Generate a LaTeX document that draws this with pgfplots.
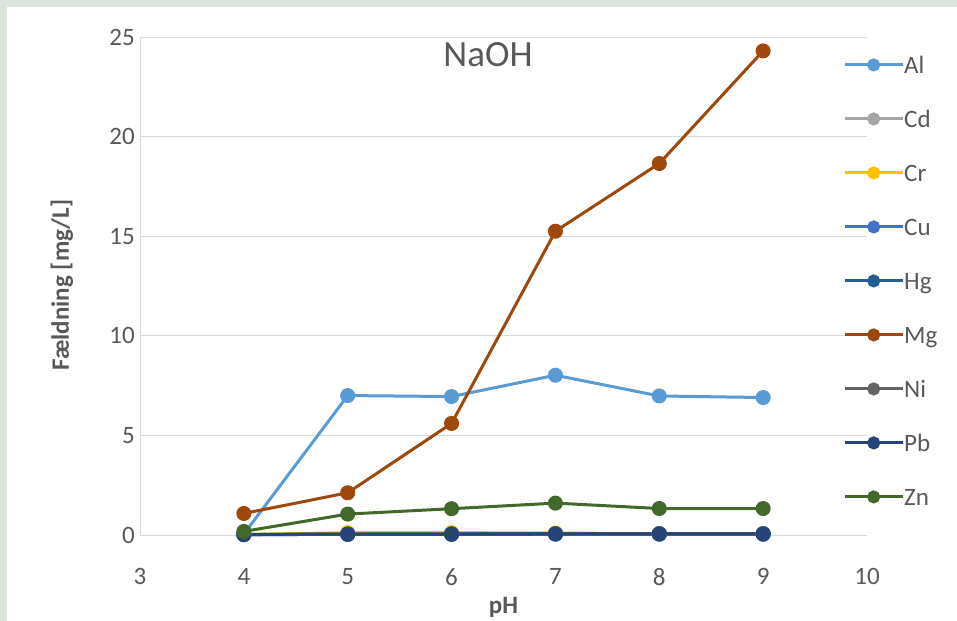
\documentclass[border=0pt]{standalone}
\usepackage{pgfplots}
\pgfplotsset{compat=1.18}
\usepackage{fontspec}
\setmainfont{Carlito}

\definecolor{frame}{HTML}{DAE5DC}
\definecolor{txt}{HTML}{595959}
\definecolor{gridc}{HTML}{D9D9D9}
\definecolor{cAl}{HTML}{5B9BD5}
\definecolor{cCd}{HTML}{A5A5A5}
\definecolor{cCr}{HTML}{FFC000}
\definecolor{cCu}{HTML}{4472C4}
\definecolor{cHg}{HTML}{255E91}
\definecolor{cMg}{HTML}{9E480E}
\definecolor{cNi}{HTML}{636363}
\definecolor{cPb}{HTML}{264478}
\definecolor{cZn}{HTML}{43682B}

\begin{document}
\begin{tikzpicture}
% page background with the thin frame on the left and top
\useasboundingbox (-140bp,-86bp) rectangle (817bp,535bp);
\fill[frame] (-140bp,-86bp) rectangle (817bp,535bp);
\fill[white] (-133bp,-86bp) rectangle (817bp,528bp);
\begin{axis}[
  scale only axis,
  width=727bp, height=498bp,
  xmin=3, xmax=10, ymin=0, ymax=25,
  xtick={3,...,10}, ytick={0,5,...,25},
  major tick length=0pt,
  axis x line*=bottom, axis y line*=left,
  axis line style={gridc, line width=0.8bp, -},
  ymajorgrids, grid style={gridc, line width=0.8bp},
  /pgf/number format/assume math mode=true,
  tick label style={font=\fontsize{25bp}{30bp}\selectfont, text=txt},
  yticklabel style={anchor=east, inner sep=0pt, xshift=-5bp},
  xticklabel style={anchor=north, inner sep=0pt, yshift=-33bp},
  xlabel={pH}, ylabel={Fældning [mg/L]},
  label style={font=\bfseries\fontsize{25bp}{30bp}\selectfont, text=txt, inner sep=0pt},
  xlabel style={at={(rel axis cs:0.5,0)}, anchor=north, yshift=-62bp},
  ylabel style={at={(rel axis cs:-0.1073,0.502)}, anchor=center},
  every axis plot/.append style={line width=3bp, mark=*, mark size=6bp},
  legend image code/.code={%
    \draw[line width=3bp, mark repeat=2, mark phase=2, mark size=5bp]
      plot coordinates {(0bp,0.32em) (29bp,0.32em) (58bp,0.32em)};},
  legend style={at={(rel axis cs:0.967,0.956)}, anchor=north west,
    draw=none, fill=none, inner sep=0pt, row sep=36bp,
    font=\fontsize{25bp}{30bp}\selectfont, text=txt,
    nodes={inner sep=0pt, text height=14bp, text depth=4bp},
    /tikz/every even column/.append style={column sep=8bp}},
  legend cell align=left,
  clip=false,
]
\addplot[cAl] coordinates {(4,0.05) (5,7.0) (6,6.95) (7,8.02) (8,6.98) (9,6.9)};
\addlegendentry{Al}
\addplot[cCd] coordinates {(4,0.02) (5,0.05) (6,0.05) (7,0.08) (8,0.06) (9,0.06)};
\addlegendentry{Cd}
\addplot[cCr] coordinates {(4,0.02) (5,0.12) (6,0.12) (7,0.1) (8,0.07) (9,0.07)};
\addlegendentry{Cr}
\addplot[cCu] coordinates {(4,0.02) (5,0.03) (6,0.04) (7,0.05) (8,0.05) (9,0.05)};
\addlegendentry{Cu}
\addplot[cHg] coordinates {(4,0.02) (5,0.03) (6,0.03) (7,0.04) (8,0.04) (9,0.04)};
\addlegendentry{Hg}
\addplot[cMg] coordinates {(4,1.08) (5,2.12) (6,5.6) (7,15.25) (8,18.65) (9,24.3)};
\addlegendentry{Mg}
\addplot[cNi] coordinates {(4,0.02) (5,0.05) (6,0.06) (7,0.07) (8,0.07) (9,0.07)};
\addlegendentry{Ni}
\addplot[cPb] coordinates {(4,0.03) (5,0.05) (6,0.05) (7,0.06) (8,0.06) (9,0.06)};
\addlegendentry{Pb}
\addplot[cZn] coordinates {(4,0.18) (5,1.05) (6,1.32) (7,1.6) (8,1.33) (9,1.33)};
\addlegendentry{Zn}
\node[font=\fontsize{37bp}{44bp}\selectfont, text=txt, inner sep=0pt]
  at (rel axis cs:0.4787,0.964) {NaOH};
\end{axis}
\end{tikzpicture}
\end{document}
